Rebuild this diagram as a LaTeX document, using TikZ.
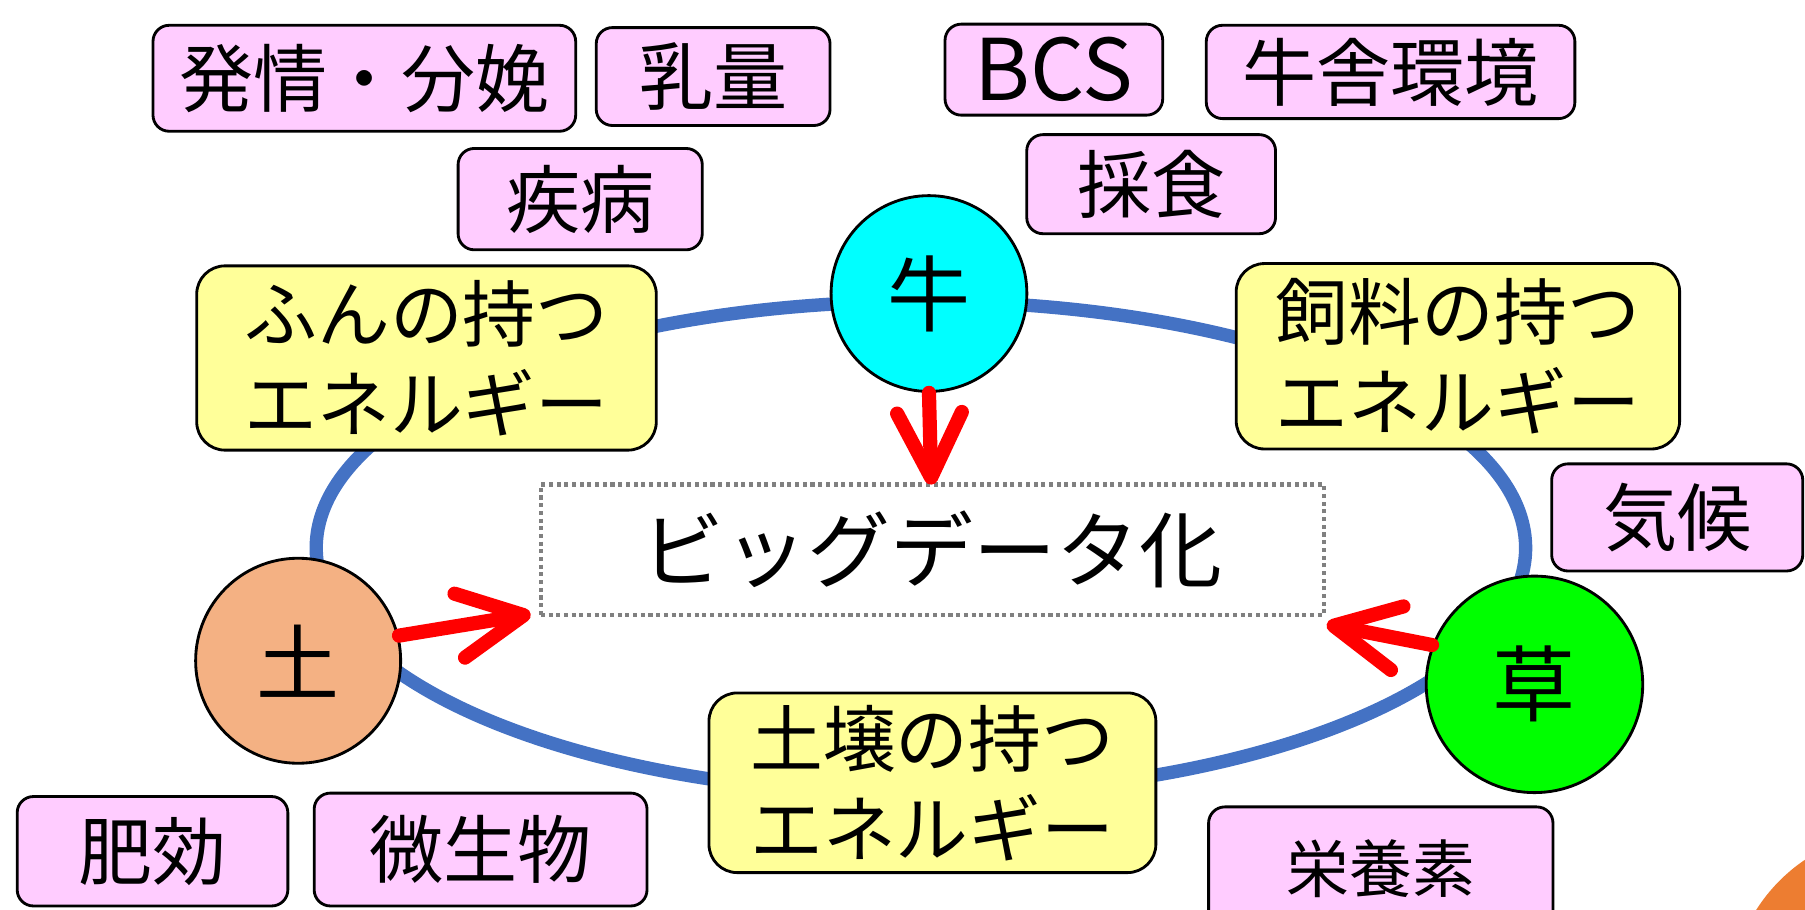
\documentclass[tikz,border=0pt]{standalone}
\usepackage{fontspec}
\newfontfamily\jp{Noto Sans CJK JP}
\usetikzlibrary{arrows.meta}
\definecolor{pinkbox}{HTML}{FFCCFF}
\definecolor{yellowbox}{HTML}{FFFF99}
\definecolor{ringblue}{HTML}{4472C4}
\definecolor{cowcyan}{HTML}{00FFFF}
\definecolor{grassgreen}{HTML}{00FF00}
\definecolor{soilorange}{HTML}{F4B183}
\definecolor{cornerorange}{HTML}{ED7D31}
\definecolor{dotgray}{HTML}{808080}
\tikzset{
  pinkitem/.style={draw=black, line width=0.7pt, fill=pinkbox, rounded corners=4pt,
    inner sep=0pt, font=\jp\fontsize{18.3pt}{22pt}\selectfont},
  energybox/.style={draw=black, line width=0.7pt, fill=yellowbox, rounded corners=7pt,
    inner sep=0pt, align=center, font=\jp\fontsize{18pt}{22.2pt}\selectfont},
  actor/.style={circle, draw=black, line width=0.7pt, inner sep=0pt,
    font=\jp\fontsize{20.5pt}{24pt}\selectfont},
  databox/.style={draw=dotgray, line width=1.1pt, dash pattern=on 1.0pt off 0.9pt,
    inner sep=0pt, font=\jp\fontsize{20.5pt}{24pt}\selectfont},
  ring/.style={draw=ringblue, line width=3.3pt},
  redarrow/.style={draw=red, line width=3.5pt, line cap=round,
    -{Straight Barb[length=16pt,width=16pt,round]}}
}
\begin{document}
\begin{tikzpicture}[x=0.01cm, y=-0.01cm]
\useasboundingbox (0,0) rectangle (1568,789.7);
% corner decoration
\fill[cornerorange] (1650,869) circle[radius=1.47cm];
% ring
\draw[ring] (800,476) ellipse[x radius=5.25cm, y radius=2.14cm];
% central box
\node[databox, minimum width=6.8cm, minimum height=1.13cm] (bd) at (810,477.5) {ビッグデータ化};
% actors
\node[actor, fill=cowcyan, minimum size=1.70cm] (ox) at (807,255) {牛};
\node[actor, fill=soilorange, minimum size=1.78cm] (soil) at (259,574) {土};
\node[actor, fill=grassgreen, minimum size=1.88cm] (grass) at (1333,594.5) {草};
% energy boxes
\node[energybox, minimum width=3.99cm, minimum height=1.60cm] (e1) at (370.5,311) {ふんの持つ\\エネルギー};
\node[energybox, minimum width=3.85cm, minimum height=1.61cm] (e2) at (1266.5,309.5) {飼料の持つ\\エネルギー};
\node[energybox, minimum width=3.88cm, minimum height=1.56cm] (e3) at (810,680) {土壌の持つ\\エネルギー};
% pink items
\node[pinkitem, minimum width=3.67cm, minimum height=0.92cm] (p1) at (316.5,68) {発情・分娩};
\node[pinkitem, minimum width=2.03cm, minimum height=0.85cm] (p2) at (619.5,66.5) {乳量};
\node[pinkitem, minimum width=2.12cm, minimum height=0.88cm] (p3) at (504,173) {疾病};
\node[pinkitem, minimum width=1.89cm, minimum height=0.79cm, font=\jp\fontsize{21pt}{24pt}\selectfont] (p4) at (915.5,60.5) {BCS};
\node[pinkitem, minimum width=3.20cm, minimum height=0.81cm] (p5) at (1208,62.5) {牛舎環境};
\node[pinkitem, minimum width=2.16cm, minimum height=0.86cm] (p6) at (1000,160) {採食};
\node[pinkitem, minimum width=2.18cm, minimum height=0.93cm] (p7) at (1457,449.5) {気候};
\node[pinkitem, minimum width=2.35cm, minimum height=0.95cm] (p8) at (132.5,739.5) {肥効};
\node[pinkitem, minimum width=2.89cm, minimum height=0.98cm] (p9) at (417.5,738) {微生物};
\node[pinkitem, minimum width=2.99cm, minimum height=1.08cm, font=\jp\fontsize{15.5pt}{19pt}\selectfont] (p10) at (1199.5,755) {栄養素};
% arrow tips
\coordinate (t1) at (809,421);
\coordinate (t2) at (461,533.4);
\coordinate (t3) at (1152.5,542.4);
\draw[redarrow] (ox.south) -- (t1);
\draw[redarrow] (soil.14) -- (t2);
\draw[redarrow] (grass.159) -- (t3);
\end{tikzpicture}
\end{document}
